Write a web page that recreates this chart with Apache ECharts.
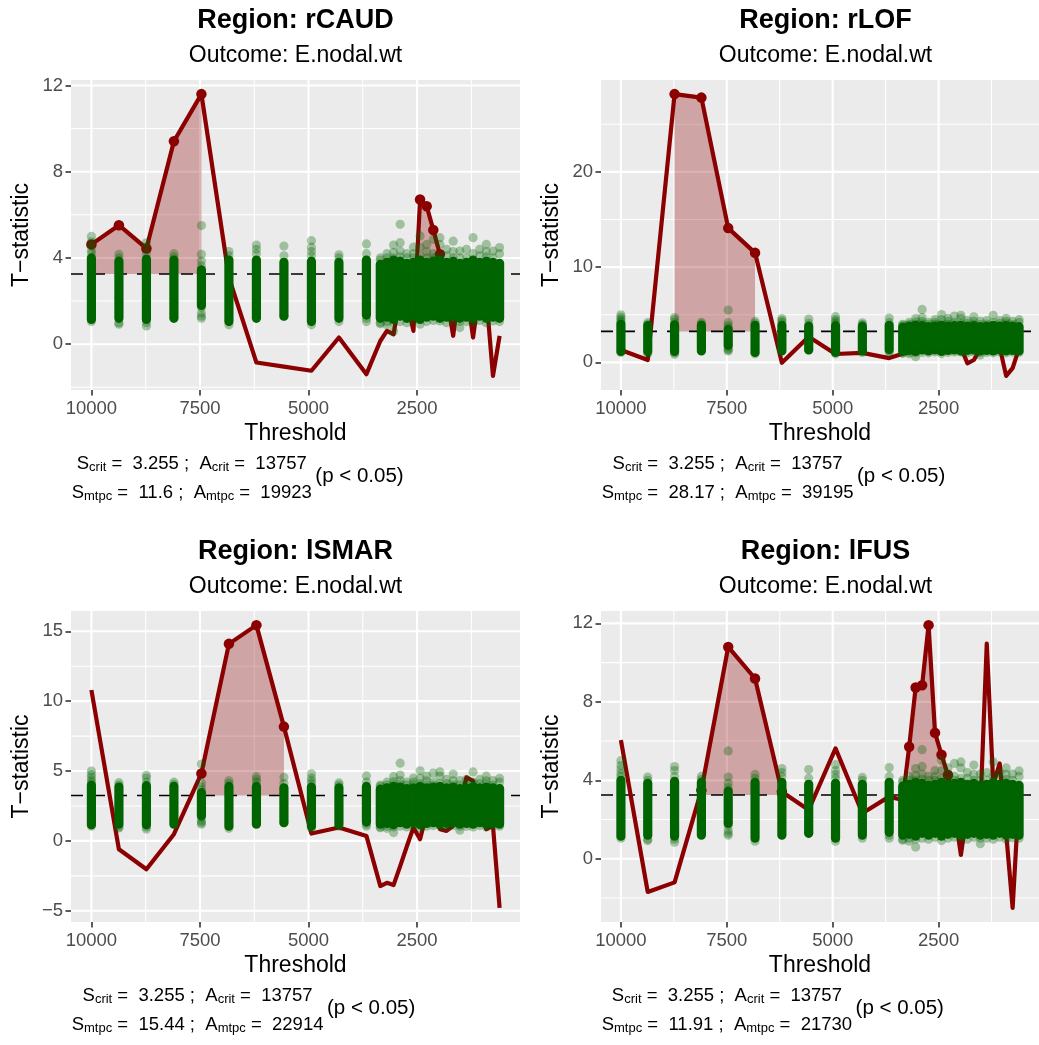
<!DOCTYPE html>
<html>
<head>
<meta charset="utf-8">
<script src="https://cdn.jsdelivr.net/npm/echarts@6/dist/echarts.min.js"></script>
<style>
  html, body { margin: 0; padding: 0; background: #ffffff; }
  #chart { width: 1039px; height: 1045px; }
</style>
</head>
<body>
<div id="chart"></div>
<script>
// Thresholds (left to right on the reversed axis)
const thresholds = [10000, 9366.7, 8733.3, 8100, 7466.7, 6833.3, 6200, 5566.7, 4933.3, 4300, 3666.7,
  3347.4, 3194.7, 3042.1, 2889.5, 2736.8, 2584.2, 2431.6, 2278.9, 2126.3, 1973.7,
  1821.1, 1668.4, 1515.8, 1363.2, 1210.5, 1057.9, 905.3, 752.6, 600];

// Permutation null distribution: dense core per threshold plus sparse values outside it
const nullLow  = [1.15, 1.2, 1.15, 1.2, 1.8, 1.05, 1.2, 1.3, 1.05, 1.2, 1.35,
  1.2, 1.25, 1.15, 1.3, 1.2, 1.3, 1.15, 1.25, 1.3, 1.2, 1.25, 1.3, 1.2, 1.25, 1.2, 1.3, 1.2, 1.25, 1.2];
const nullHigh = [4.0, 3.85, 3.95, 3.9, 3.45, 3.9, 3.9, 3.8, 3.85, 3.8, 3.9,
  3.7, 3.8, 3.9, 3.85, 3.75, 3.8, 3.9, 3.8, 3.85, 3.9, 3.8, 3.85, 3.75, 3.8, 3.9, 3.8, 3.85, 3.8, 3.75];
const nullSparse = [
  [0, 5.0], [0, 4.75], [0, 4.55], [0, 4.35], [0, 4.2], [0, 1.05],
  [1, 4.17], [1, 4.0], [1, 1.0], [1, 0.93],
  [2, 4.7], [2, 4.5], [2, 4.2], [2, 1.0], [2, 0.85],
  [3, 4.2], [3, 4.05],
  [4, 5.5], [4, 4.17], [4, 3.86], [4, 3.63], [4, 1.7], [4, 1.45], [4, 1.3], [4, 1.2],
  [5, 4.3], [5, 4.1], [5, 0.9],
  [6, 4.6], [6, 4.4], [6, 4.2],
  [7, 4.55], [7, 4.1], [7, 1.3],
  [8, 4.8], [8, 4.5], [8, 4.3], [8, 4.1], [8, 0.9],
  [9, 4.15], [9, 4.0], [9, 1.05],
  [10, 4.65], [10, 4.2], [10, 1.2], [10, 1.05],
  [11, 4.0], [11, 3.9], [11, 1.0], [11, 0.95],
  [12, 4.2], [12, 4.0], [12, 1.05], [12, 0.9],
  [13, 4.6], [13, 4.25], [13, 4.0], [13, 0.6], [13, 1.0],
  [14, 5.56], [14, 4.71], [14, 4.32], [14, 4.05], [14, 1.05],
  [15, 4.2], [15, 4.0], [15, 1.0],
  [16, 4.5], [16, 4.0], [16, 4.2], [16, 1.1],
  [17, 5.02], [17, 4.5], [17, 4.1], [17, 0.93],
  [18, 4.63], [18, 4.3], [18, 4.0], [18, 1.05],
  [19, 4.86], [19, 4.2], [19, 4.0], [19, 1.1],
  [20, 4.94], [20, 4.63], [20, 4.1], [20, 1.08],
  [21, 4.4], [21, 4.1], [21, 1.0],
  [22, 4.78], [22, 4.3], [22, 4.0], [22, 1.1],
  [23, 4.32], [23, 4.0], [23, 0.77], [23, 1.05],
  [24, 4.4], [24, 4.01], [24, 1.05],
  [25, 4.94], [25, 4.2], [25, 1.0],
  [26, 4.4], [26, 4.1], [26, 1.1],
  [27, 4.63], [27, 4.3], [27, 4.05], [27, 1.0],
  [28, 4.32], [28, 4.0], [28, 1.08],
  [29, 4.48], [29, 4.2], [29, 1.05]
];

// Observed T-statistics per region
const tRCAUD = [4.63, 5.52, 4.44, 9.41, 11.6, 3.1, -0.85, -1.04, -1.23, 0.31, -1.39,
  0.15, 0.62, 0.46, 2.3, 2.0, 0.62, 6.71, 6.4, 5.3, 4.17, 2.2, 0.39, 2.8, 2.5, 0.31, 2.6, 2.2, -1.47, 0.39];
const tRLOF = [1.3, 0.25, 28.17, 27.8, 14.1, 11.5, -0.04, 2.7, 0.88, 1.0, 0.45,
  0.9, 1.1, 1.3, 1.6, 2.0, 2.2, 2.0, 2.4, 2.1, 1.6, -0.1, 0.25, 1.4, 2.0, 1.3, 1.6, -1.42, -0.6, 1.5];
const tLSMAR = [10.8, -0.6, -2.03, 0.48, 4.83, 14.1, 15.44, 8.18, 0.53, 0.96, 0.36,
  -3.23, -3.0, -3.16, -1.8, -0.4, 0.96, 0.12, 2.0, 2.2, 0.84, 0.72, 1.08, 2.5, 4.55, 4.3, 2.5, 0.84, 1.1, -4.79];
const tLFUS = [6.05, -1.69, -1.2, 3.5, 10.8, 9.19, 3.42, 2.49, 5.63, 2.32, 3.17,
  3.0, 5.71, 8.73, 8.85, 11.91, 6.42, 5.3, 4.27, 2.5, 0.2, 2.5, 2.6, 2.5, 10.97, 3.8, 4.86, 1.3, -2.5, 3.3];

// Significant clusters, as [first index, last index]
const sigRCAUD = [[0, 4], [17, 20]];
const sigRLOF = [[2, 5]];
const sigLSMAR = [[4, 7]];
const sigLFUS = [[3, 6], [12, 18]];

const regionNames = ['rCAUD', 'rLOF', 'lSMAR', 'lFUS'];
const outcomeName = 'E.nodal.wt';
const sCrit = 3.255;
const aCrit = 13757;
const sMtpc = [11.6, 28.17, 15.44, 11.91];
const aMtpc = [19923, 39195, 22914, 21730];

// Axis breaks
const xBreaks = [2500, 5000, 7500, 10000];
const yBreaksRCAUD = [0, 4, 8, 12];
const yBreaksRLOF = [0, 10, 20];
const yBreaksLSMAR = [-5, 0, 5, 10, 15];
const yBreaksLFUS = [0, 4, 8, 12];

const FONT = '"Liberation Sans", Arial, Helvetica, sans-serif';
const PANEL_W = 449;
const panels = [
  { t: tRCAUD, sig: sigRCAUD, yBreaks: yBreaksRCAUD, left: 71, top: 80, h: 310 },
  { t: tRLOF, sig: sigRLOF, yBreaks: yBreaksRLOF, left: 601, top: 80, h: 310 },
  { t: tLSMAR, sig: sigLSMAR, yBreaks: yBreaksLSMAR, left: 71, top: 611, h: 311 },
  { t: tLFUS, sig: sigLFUS, yBreaks: yBreaksLFUS, left: 601, top: 611, h: 311 }
];

function expand(lo, hi) {
  const p = (hi - lo) * 0.05;
  return [lo - p, hi + p];
}
function minorBreaks(breaks, lo, hi) {
  const step = breaks[1] - breaks[0];
  const out = [];
  for (let v = breaks[0] - step / 2; v <= hi; v += step) {
    if (v >= lo && breaks.indexOf(v) < 0) out.push(v);
  }
  return out;
}
const minusSign = v => String(v).replace('-', '\u2212');

const xRange = expand(Math.min.apply(null, thresholds), Math.max.apply(null, thresholds));
const nullVals = nullLow.concat(nullHigh, nullSparse.map(d => d[1]));

const measureCtx = document.createElement('canvas').getContext('2d');
function textWidth(str, size, weight) {
  measureCtx.font = (weight || 'normal') + ' ' + size + 'px ' + FONT;
  return measureCtx.measureText(str).width;
}

const grids = [], xAxes = [], yAxes = [], series = [], graphics = [];

panels.forEach((p, i) => {
  const yRange = expand(
    Math.min.apply(null, p.t.concat(nullVals, [sCrit])),
    Math.max.apply(null, p.t.concat(nullVals, [sCrit]))
  );
  grids.push({
    left: p.left, top: p.top, width: PANEL_W, height: p.h,
    show: true, backgroundColor: '#EBEBEB', borderWidth: 0
  });
  xAxes.push({
    type: 'value', gridIndex: i, inverse: true, min: xRange[0], max: xRange[1],
    axisLine: { show: false, onZero: false },
    axisTick: { show: true, customValues: xBreaks, length: 5.5, lineStyle: { color: '#333333', width: 1.6 } },
    axisLabel: { customValues: xBreaks, color: '#4D4D4D', fontSize: 18.5, fontFamily: FONT, margin: 9.5,
      formatter: minusSign },
    splitLine: { show: false },
    name: 'Threshold', nameLocation: 'middle', nameGap: 32,
    nameTextStyle: { color: '#000000', fontSize: 23, fontFamily: FONT }
  });
  yAxes.push({
    type: 'value', gridIndex: i, min: yRange[0], max: yRange[1],
    axisLine: { show: false, onZero: false },
    axisTick: { show: true, customValues: p.yBreaks, length: 5.5, lineStyle: { color: '#333333', width: 1.6 } },
    axisLabel: { customValues: p.yBreaks, color: '#4D4D4D', fontSize: 18.5, fontFamily: FONT, margin: 8,
      formatter: minusSign },
    splitLine: { show: false },
    name: 'T\u2212statistic', nameLocation: 'middle', nameGap: 38,
    nameTextStyle: { color: '#000000', fontSize: 23, fontFamily: FONT }
  });

  // Panel grid lines (major and minor)
  const gridData = [];
  xBreaks.forEach(v => gridData.push([0, v, 1]));
  minorBreaks(xBreaks, xRange[0], xRange[1]).forEach(v => gridData.push([0, v, 0]));
  p.yBreaks.forEach(v => gridData.push([1, v, 1]));
  minorBreaks(p.yBreaks, yRange[0], yRange[1]).forEach(v => gridData.push([1, v, 0]));
  series.push({
    type: 'custom', xAxisIndex: i, yAxisIndex: i, z: 1, silent: true,
    data: gridData,
    renderItem: (params, api) => {
      const cs = params.coordSys;
      const vertical = api.value(0) === 0;
      const v = api.value(1);
      let shape;
      if (vertical) {
        const px = api.coord([v, yRange[0]])[0];
        shape = { x1: px, y1: cs.y, x2: px, y2: cs.y + cs.height };
      } else {
        const py = api.coord([xRange[0], v])[1];
        shape = { x1: cs.x, y1: py, x2: cs.x + cs.width, y2: py };
      }
      return { type: 'line', shape: shape, style: { stroke: '#FFFFFF', lineWidth: api.value(2) ? 2.1 : 1.05 } };
    }
  });

  // Shaded area between the critical value and T inside significant clusters
  series.push({
    type: 'custom', xAxisIndex: i, yAxisIndex: i, z: 2, silent: true,
    data: p.sig.map(r => [thresholds[r[0]], p.t[r[0]], r[0], r[1]]),
    renderItem: (params, api) => {
      const a = api.value(2), b = api.value(3);
      const pts = [];
      for (let k = a; k <= b; k++) pts.push(api.coord([thresholds[k], p.t[k]]));
      pts.push(api.coord([thresholds[b], sCrit]));
      pts.push(api.coord([thresholds[a], sCrit]));
      return { type: 'polygon', shape: { points: pts }, style: { fill: 'rgba(139,0,0,0.3)' } };
    }
  });

  // Critical T value
  series.push({
    type: 'custom', xAxisIndex: i, yAxisIndex: i, z: 3, silent: true,
    data: [[xRange[0], sCrit]],
    renderItem: (params, api) => {
      const cs = params.coordSys;
      const py = api.coord([api.value(0), api.value(1)])[1];
      return {
        type: 'line', shape: { x1: cs.x, y1: py, x2: cs.x + cs.width, y2: py },
        style: { stroke: '#000000', lineWidth: 1.6, lineDash: [12, 10] }
      };
    }
  });

  // Observed statistic
  series.push({
    type: 'line', xAxisIndex: i, yAxisIndex: i, z: 4, silent: true,
    data: thresholds.map((x, k) => [x, p.t[k]]),
    symbol: 'none', smooth: false,
    lineStyle: { color: '#8B0000', width: 4.2, join: 'round', cap: 'butt' }
  });

  // Points of the significant clusters
  const sigPts = [];
  p.sig.forEach(r => { for (let k = r[0]; k <= r[1]; k++) sigPts.push([thresholds[k], p.t[k]]); });
  series.push({
    type: 'scatter', xAxisIndex: i, yAxisIndex: i, z: 5, silent: true,
    data: sigPts, symbol: 'circle', symbolSize: 10.5,
    itemStyle: { color: '#8B0000', opacity: 1 }
  });

  // Null distribution: dense core of each threshold
  series.push({
    type: 'custom', xAxisIndex: i, yAxisIndex: i, z: 6, silent: true,
    data: thresholds.map((x, k) => [x, nullLow[k], nullHigh[k]]),
    renderItem: (params, api) => {
      const top = api.coord([api.value(0), api.value(2)]);
      const bot = api.coord([api.value(0), api.value(1)]);
      const r = 4.6;
      return {
        type: 'rect',
        shape: { x: top[0] - r, y: top[1] - r, width: 2 * r, height: bot[1] - top[1] + 2 * r, r: r },
        style: { fill: '#006400' }
      };
    }
  });

  // Null distribution: sparse values
  series.push({
    type: 'scatter', xAxisIndex: i, yAxisIndex: i, z: 7, silent: true,
    data: nullSparse.map(d => [thresholds[d[0]], d[1]]),
    symbol: 'circle', symbolSize: 9.2,
    itemStyle: { color: 'rgba(0,100,0,0.4)' }
  });

  // Titles
  const cx = p.left + PANEL_W / 2;
  graphics.push({
    type: 'text', x: cx, y: p.top - 59,
    style: { text: 'Region: ' + regionNames[i], fontSize: 27, fontWeight: 'bold', fontFamily: FONT,
      fill: '#000000', align: 'center', verticalAlign: 'middle' }
  });
  graphics.push({
    type: 'text', x: cx, y: p.top - 24,
    style: { text: 'Outcome: ' + outcomeName, fontSize: 23, fontFamily: FONT,
      fill: '#000000', align: 'center', verticalAlign: 'middle' }
  });

  // Caption with the critical and observed values
  const NS = 18.5, SS = 13;
  const line1 = [['n', 'S'], ['s', 'crit'], ['n', ' =  ' + sCrit + ' ;  A'], ['s', 'crit'], ['n', ' =  ' + aCrit]];
  const line2 = [['n', 'S'], ['s', 'mtpc'], ['n', ' =  ' + sMtpc[i] + ' ;  A'], ['s', 'mtpc'], ['n', ' =  ' + aMtpc[i]]];
  const widthOf = toks => toks.reduce((s, t) => s + textWidth(t[1], t[0] === 'n' ? NS : SS), 0);
  const blockW = Math.max(widthOf(line1), widthOf(line2));
  const blockLeft = p.left + 0.7;
  const bottom = p.top + p.h;
  const rich = {
    n: { fontSize: NS, fontFamily: FONT, fill: '#000000', lineHeight: 20 },
    s: { fontSize: SS, fontFamily: FONT, fill: '#000000', lineHeight: 12, verticalAlign: 'bottom' }
  };
  const toRich = toks => toks.map(t => '{' + t[0] + '|' + t[1] + '}').join('');
  graphics.push({
    type: 'text', x: blockLeft + blockW / 2, y: bottom + 74.2,
    style: { text: toRich(line1), rich: rich, align: 'center', verticalAlign: 'middle' }
  });
  graphics.push({
    type: 'text', x: blockLeft + blockW / 2, y: bottom + 102.5,
    style: { text: toRich(line2), rich: rich, align: 'center', verticalAlign: 'middle' }
  });
  graphics.push({
    type: 'text', x: blockLeft + blockW + 3.5, y: bottom + 86.7,
    style: { text: '(p < 0.05)', fontSize: 20.5, fontFamily: FONT, fill: '#000000', align: 'left', verticalAlign: 'middle' }
  });
});

const chart = echarts.init(document.getElementById('chart'), null, { renderer: 'canvas' });
chart.setOption({
  animation: false,
  backgroundColor: '#FFFFFF',
  grid: grids,
  xAxis: xAxes,
  yAxis: yAxes,
  series: series,
  graphic: { elements: graphics }
});
</script>
</body>
</html>
